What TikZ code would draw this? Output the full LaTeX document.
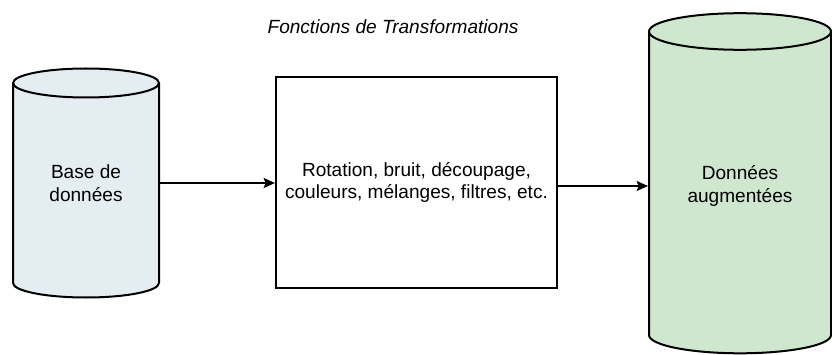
\documentclass[tikz,border=0pt]{standalone}
\usepackage{fontspec}
\setmainfont{Liberation Sans}
\usetikzlibrary{arrows.meta}
\definecolor{bleubase}{HTML}{E4EDF2}
\definecolor{vertaug}{HTML}{D0E7CF}
\begin{document}
\begin{tikzpicture}[x=0.75pt,y=0.75pt,line width=1.5pt,
    texte/.style={align=center,inner sep=0pt,font=\fontsize{14.3}{17}\selectfont},
    fleche/.style={-{Stealth[length=8.5pt,width=7.5pt,inset=1.5pt]}}]
    \useasboundingbox (0,0) rectangle (832,354);
    % base de donnees
    \filldraw[fill=bleubase] (13,271) -- (13,71) arc[start angle=180,end angle=360,x radius=73,y radius=14.5]
      -- (159,271) arc[start angle=0,end angle=180,x radius=73,y radius=14.5] -- cycle;
    \draw (13,271) arc[start angle=180,end angle=360,x radius=73,y radius=14.5];
    \node[texte,minimum width=109.5pt] (base) at (86,171) {Base de\\données};
    % donnees augmentees
    \filldraw[fill=vertaug] (649,322.5) -- (649,19) arc[start angle=180,end angle=360,x radius=91,y radius=18.3]
      -- (831,322.5) arc[start angle=0,end angle=180,x radius=91,y radius=18.3] -- cycle;
    \draw (649,322.5) arc[start angle=180,end angle=360,x radius=91,y radius=18.3];
    \node[texte,minimum width=136.5pt] (aug) at (740,168) {Données\\augmentées};
    % transformations
    \node[texte,draw,minimum width=210.75pt,minimum height=158.25pt] (transf) at (416.5,171.5)
      {Rotation, bruit, découpage,\\couleurs, mélanges, filtres, etc.};
    \node[texte,font=\fontsize{14.3}{17}\selectfont\itshape] (titre) at (393,327) {Fonctions de Transformations};
    % fleches
    \draw[fleche] (base.east) -- (base.east -| transf.west);
    \draw[fleche] (transf.east |- aug.west) -- (aug.west);
  \end{tikzpicture}
\end{document}
